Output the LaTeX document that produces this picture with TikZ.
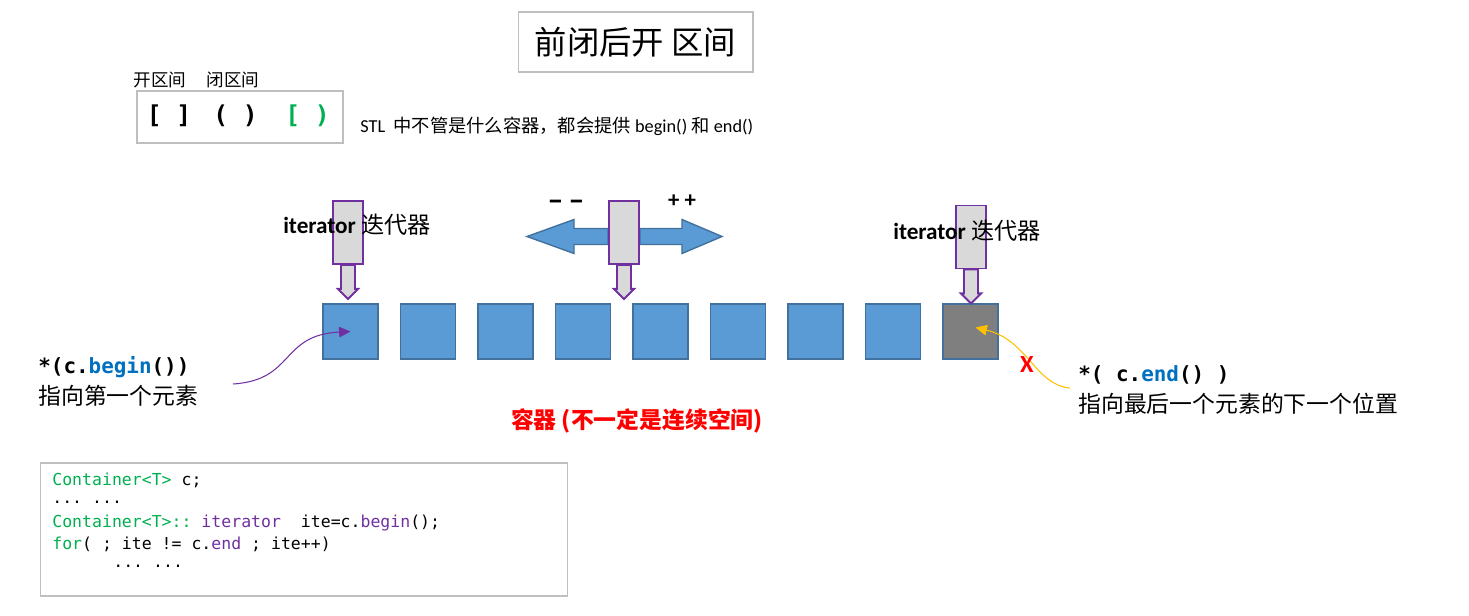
\documentclass[tikz,border=0pt]{standalone}
\usepackage{fontspec}
\setmainfont{Carlito}
\setmonofont{DejaVu Sans Mono}
\newfontfamily\cjk{Noto Sans CJK SC}
\usetikzlibrary{calc,arrows.meta,backgrounds}

\definecolor{boxblue}{HTML}{5B9BD5}
\definecolor{boxline}{HTML}{41719C}
\definecolor{endgray}{HTML}{7F7F7F}
\definecolor{ptrfill}{HTML}{D9D9D9}
\definecolor{ptrline}{HTML}{7030A0}
\definecolor{framegray}{HTML}{BFBFBF}
\definecolor{codegreen}{HTML}{00B050}
\definecolor{codepurple}{HTML}{7030A0}
\definecolor{kwblue}{HTML}{0070C0}
\definecolor{hintyellow}{HTML}{FFC000}

\tikzset{
  elem/.style={draw=boxline,fill=boxblue,line width=1pt,minimum size=1.1cm,inner sep=0pt},
  ptr/.style={draw=ptrline,fill=ptrfill,line width=1.1pt,minimum width=0.6cm,minimum height=1.26cm,inner sep=0pt},
  ptrarrow/.style={draw=ptrline,fill=ptrfill,line width=1.1pt},
  blockarr/.style={draw=boxline,fill=boxblue,line width=0.8pt},
  frame/.style={draw=framegray,line width=0.6pt,inner sep=0pt},
  lbl/.style={inner sep=0pt,anchor=west},
  codeline/.style={inner sep=0pt,anchor=west,font=\ttfamily\fontsize{9.4}{11}\selectfont},
}

\begin{document}
\begin{tikzpicture}[x=0.02cm,y=-0.02cm]
\useasboundingbox (0,0) rectangle (1469,615);

\node[frame,minimum width=4.7cm,minimum height=1.2cm] (title) at (635.5,42)
  {\cjk\fontsize{18.4}{22}\selectfont 前闭后开 区间};

% intervals
\node[lbl,anchor=center] (openlbl) at (160,80) {\cjk\fontsize{10}{12}\selectfont 开区间};
\node[lbl,anchor=center] (closedlbl) at (233,80) {\cjk\fontsize{10}{12}\selectfont 闭区间};
\node[frame,minimum width=4.12cm,minimum height=1.04cm] (brk) at (240,117) {};
\node (b1) at (169,116) {\ttfamily\bfseries\fontsize{14}{16}\selectfont [ ]};
\node (b2) at (235.5,116) {\ttfamily\bfseries\fontsize{14}{16}\selectfont ( )};
\node (b3) at (307.5,116) {\ttfamily\bfseries\fontsize{14}{16}\selectfont\color{codegreen} [ )};
\node[lbl] (note) at (360,126) {\fontsize{10.4}{12}\selectfont STL\ \ {\cjk 中不管是什么容器，都会提供} begin() {\cjk 和} end()};

% container
\foreach \i in {0,...,8}
  \node[elem] (e\i) at ({350.5+77.5*\i},331.5) {};
\node[elem,fill=endgray] at (e8) {};

% iterators
\node[ptr] (p1) at (348,232.5) {};
\node[ptr] (p2) at (624,232.5) {};
\node[ptr] (p3) at (971,237) {};
\foreach \p in {p1,p2,p3}
  \draw[ptrarrow] (\p.south) ++(-7,0) -- ++(0,24) -- ++(-3,0) -- ++(10,10)
    -- ++(10,-10) -- ++(-3,0) -- ++(0,-24) -- cycle;
\begin{scope}[on background layer]
\draw[blockarr] (p2.west) ++(0,-4) -- ++(-34,0) -- ++(0,-9) -- ++(-47,17)
  -- ++(47,17) -- ++(0,-9) -- ++(34,0) -- cycle;
\draw[blockarr] (p2.east) ++(0,-4) -- ++(42,0) -- ++(0,-9) -- ++(40,17)
  -- ++(-40,17) -- ++(0,-9) -- ++(-42,0) -- cycle;
\end{scope}
\node (dec) at (566,205) {\bfseries\fontsize{18}{20}\selectfont –\,–};
\node (inc) at (682,201) {\bfseries\fontsize{13}{15}\selectfont + +};
\node (it1) at (357,225) {\fontsize{13.2}{16}\selectfont\textbf{iterator} {\cjk 迭代器}};
\node (it2) at (967,231) {\fontsize{13.2}{16}\selectfont\textbf{iterator} {\cjk 迭代器}};

% begin / end
\node[lbl] (beginlbl) at (38,367) {\ttfamily\bfseries\fontsize{11.9}{14}\selectfont *(c.\textcolor{kwblue}{begin}())};
\node[lbl] (beginnote) at (38,396) {\cjk\fontsize{13}{15}\selectfont 指向第一个元素};
\coordinate (bs) at (233,384);
\draw[ptrline,line width=0.6pt,-{Triangle[length=6.5pt,width=6pt]}]
  (bs) .. controls (295,380) and (280,335) .. (e0.center);

\node[lbl] (endlbl) at (1078,375) {\ttfamily\bfseries\fontsize{11.9}{14}\selectfont *( c.\textcolor{kwblue}{end}() )};
\node[lbl] (endnote) at (1078,404) {\cjk\fontsize{13}{15}\selectfont 指向最后一个元素的下一个位置};
\coordinate (es) at (1070,388);
\draw[hintyellow,line width=0.6pt,-{Triangle[length=6.5pt,width=6pt]}]
  (es) .. controls (1035,385) and (1028,340) .. ($(e8.center)+(5,-4)$);
\node[text=red] (cross) at (1027,365) {\bfseries\fontsize{14}{16}\selectfont X};

\node (cap) at (637,421) {\cjk\bfseries\fontsize{13}{15}\selectfont\color{red} 容器 (不一定是连续空间)};

% code
\node[frame,minimum width=10.56cm,minimum height=2.66cm] (code) at (304,529.5) {};
\node[codeline] (l1) at (52,480) {\textcolor{codegreen}{Container<T>} c;};
\node[codeline] (l2) at (52,502) {... ...};
\node[codeline] (l3) at (52,523) {\textcolor{codegreen}{Container<T>::} \textcolor{codepurple}{iterator}\ \ ite=c.\textcolor{codepurple}{begin}();};
\node[codeline] (l4) at (52,544) {\textcolor{codegreen}{for}( ; ite != c.\textcolor{codepurple}{end} ; ite++)};
\node[codeline] (l5) at (113,566) {... ...};
\end{tikzpicture}
\end{document}
